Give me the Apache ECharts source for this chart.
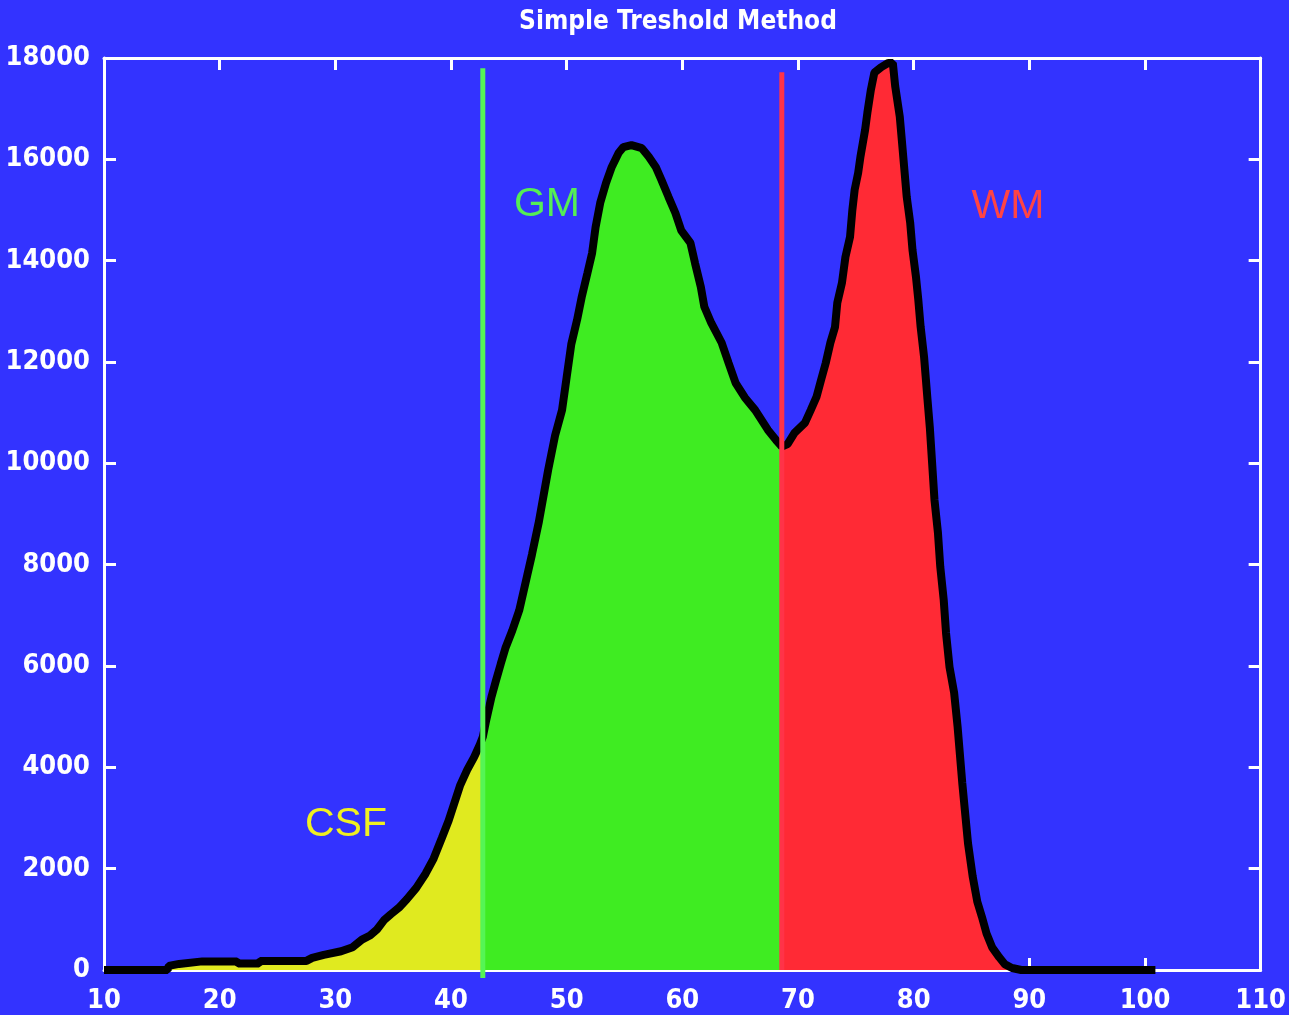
<!DOCTYPE html>
<html>
<head>
<meta charset="utf-8">
<title>Simple Treshold Method</title>
<script src="https://cdn.jsdelivr.net/npm/echarts@6/dist/echarts.min.js"></script>
<style>
  html, body { margin: 0; padding: 0; background: #3333ff; }
  #chart { width: 1289px; height: 1015px; }
</style>
</head>
<body>
<div id="chart"></div>
<script>
// intensity (x) and voxel counts (y)
const intensity = [
  10, 15.5, 15.6, 16.5, 18.5, 21.5, 21.6, 23.4, 23.5, 27.5,
  28, 29, 30.5, 31.5, 32.3, 33.0, 33.6, 34.2, 34.8, 35.5,
  36.2, 37.0, 37.8, 38.5, 39.2, 39.8, 40.3, 40.8, 41.4, 42.0,
  42.5, 42.75, 43.0, 43.5, 43.9, 44.3, 44.7, 45.3, 45.9, 46.6,
  47.0, 47.6, 48.4, 49.0, 49.6, 50.0, 50.4, 50.9, 51.3, 51.8,
  52.2, 52.5, 52.9, 53.4, 53.9, 54.5, 54.9, 55.6, 56.5, 57.1,
  57.7, 58.2, 58.8, 59.4, 59.9, 60.7, 61.1, 61.6, 61.9, 62.5,
  63.4, 64.0, 64.6, 65.4, 66.3, 67.4, 68.1, 68.6, 69.1, 69.7,
  70.6, 71.1, 71.6, 72.0, 72.4, 72.8, 73.2, 73.4, 73.8, 74.1,
  74.5, 74.7, 74.9, 75.2, 75.4, 75.8, 76.0, 76.3, 76.6, 77.2,
  77.8, 78.2, 78.4, 78.8, 79.0, 79.2, 79.4, 79.7, 79.9, 80.2,
  80.4, 80.6, 80.9, 81.2, 81.4, 81.6, 81.8, 82.1, 82.3, 82.6,
  82.8, 83.1, 83.5, 83.8, 84.2, 84.7, 85.1, 85.5, 85.9, 86.3,
  86.8, 87.4, 87.9, 88.5, 89.3, 100.9
]
const counts = [
  0, 0, 80, 120, 170, 170, 130, 130, 180, 180,
  240, 300, 370, 450, 600, 680, 800, 980, 1100, 1230,
  1400, 1620, 1900, 2200, 2600, 2950, 3300, 3650, 3950, 4200,
  4450, 4600, 4880, 5390, 5720, 6040, 6350, 6700, 7100, 7800,
  8200, 8850, 9870, 10550, 11050, 11700, 12350, 12830, 13280, 13760,
  14150, 14660, 15140, 15530, 15850, 16130, 16240, 16280, 16220, 16050,
  15850, 15590, 15260, 14940, 14600, 14350, 13950, 13480, 13090, 12770,
  12380, 11980, 11590, 11300, 11050, 10660, 10460, 10330, 10380, 10600,
  10800, 11050, 11310, 11650, 11980, 12380, 12690, 13170, 13560, 14070,
  14470, 15000, 15400, 15730, 16050, 16580, 16920, 17370, 17710, 17820,
  17900, 17900, 17450, 16840, 16320, 15790, 15260, 14750, 14210, 13680,
  13230, 12700, 12100, 11250, 10700, 9990, 9280, 8630, 7960, 7300,
  6650, 5980, 5470, 4800, 3700, 2500, 1850, 1350, 1050, 720,
  440, 250, 110, 40, 0, 0
]
const csfCut = 42.75  // CSF / GM threshold
const wmCut = 68.6    // GM / WM threshold
const xTicks = [10, 110, 10]      // min, max, step
const yTicks = [0, 18000, 2000]

const labelFont = "'DejaVu Sans Condensed', 'Liberation Sans Narrow', 'DejaVu Sans', sans-serif"

const points = intensity.map((x, i) => [x, counts[i]])
const csfPts = points.filter((p) => p[0] <= csfCut)
const gmPts = points.filter((p) => p[0] >= csfCut && p[0] <= wmCut)
const wmPts = points.filter((p) => p[0] >= wmCut)

function areaSeries(data, color) {
  return {
    type: 'line',
    data: data,
    showSymbol: false,
    silent: true,
    lineStyle: { width: 0 },
    areaStyle: { color: color, opacity: 1 },
    z: 2
  }
}

function cutLine(x, top, bottom, color) {
  return {
    type: 'line',
    data: [[x, bottom], [x, top]],
    showSymbol: false,
    silent: true,
    clip: false,
    lineStyle: { color: color, width: 5 },
    z: 5
  }
}

const chart = echarts.init(document.getElementById('chart'))

const axisCommon = {
  type: 'value',
  axisLine: { show: true, onZero: false, lineStyle: { color: '#ffffff', width: 3 } },
  axisTick: { show: true, inside: true, length: 12, lineStyle: { color: '#ffffff', width: 3 } },
  splitLine: { show: false }
}
const tickLabel = {
  color: '#ffffff', fontSize: 27, fontWeight: 'bold', fontFamily: labelFont,
  formatter: (v) => String(v)
}

chart.setOption({
  backgroundColor: '#3333ff',
  animation: false,
  grid: { left: 104, right: 25, top: 58, bottom: 45 },
  xAxis: [
    Object.assign({}, axisCommon, {
      position: 'bottom',
      min: xTicks[0], max: xTicks[1], interval: xTicks[2],
      axisLabel: Object.assign({ margin: 17 }, tickLabel)
    }),
    Object.assign({}, axisCommon, {
      position: 'top',
      min: xTicks[0], max: xTicks[1], interval: xTicks[2],
      axisLabel: { show: false }
    })
  ],
  yAxis: [
    Object.assign({}, axisCommon, {
      position: 'left',
      min: yTicks[0], max: yTicks[1], interval: yTicks[2],
      axisLabel: Object.assign({ margin: 14 }, tickLabel)
    }),
    Object.assign({}, axisCommon, {
      position: 'right',
      min: yTicks[0], max: yTicks[1], interval: yTicks[2],
      axisLabel: { show: false }
    })
  ],
  series: [
    areaSeries(csfPts, '#e0ea1f'),
    areaSeries(gmPts, '#3fec22'),
    areaSeries(wmPts, '#ff2a35'),
    {
      type: 'line',
      data: points,
      showSymbol: false,
      silent: true,
      lineStyle: { color: '#000000', width: 8 },
      z: 4
    },
    cutLine(csfCut, 17800, -160, '#55f555'),
    cutLine(wmCut, 17720, 0, '#ff3348')
  ],
  graphic: [
    {
      type: 'text',
      style: {
        text: 'Simple Treshold Method', x: 678, y: 22,
        align: 'center', verticalAlign: 'middle',
        fill: '#ffffff', font: 'bold 26px ' + labelFont
      }
    },
    {
      type: 'text',
      style: { text: 'CSF', x: 346, y: 825, align: 'center', verticalAlign: 'middle', fill: '#f0f020', font: '41px "Liberation Sans", Arial, sans-serif' }
    },
    {
      type: 'text',
      style: { text: 'GM', x: 547, y: 205, align: 'center', verticalAlign: 'middle', fill: '#55ee55', font: '41px "Liberation Sans", Arial, sans-serif' }
    },
    {
      type: 'text',
      style: { text: 'WM', x: 1008, y: 207, align: 'center', verticalAlign: 'middle', fill: '#ff4444', font: '41px "Liberation Sans", Arial, sans-serif' }
    }
  ]
})
</script>
</body>
</html>
